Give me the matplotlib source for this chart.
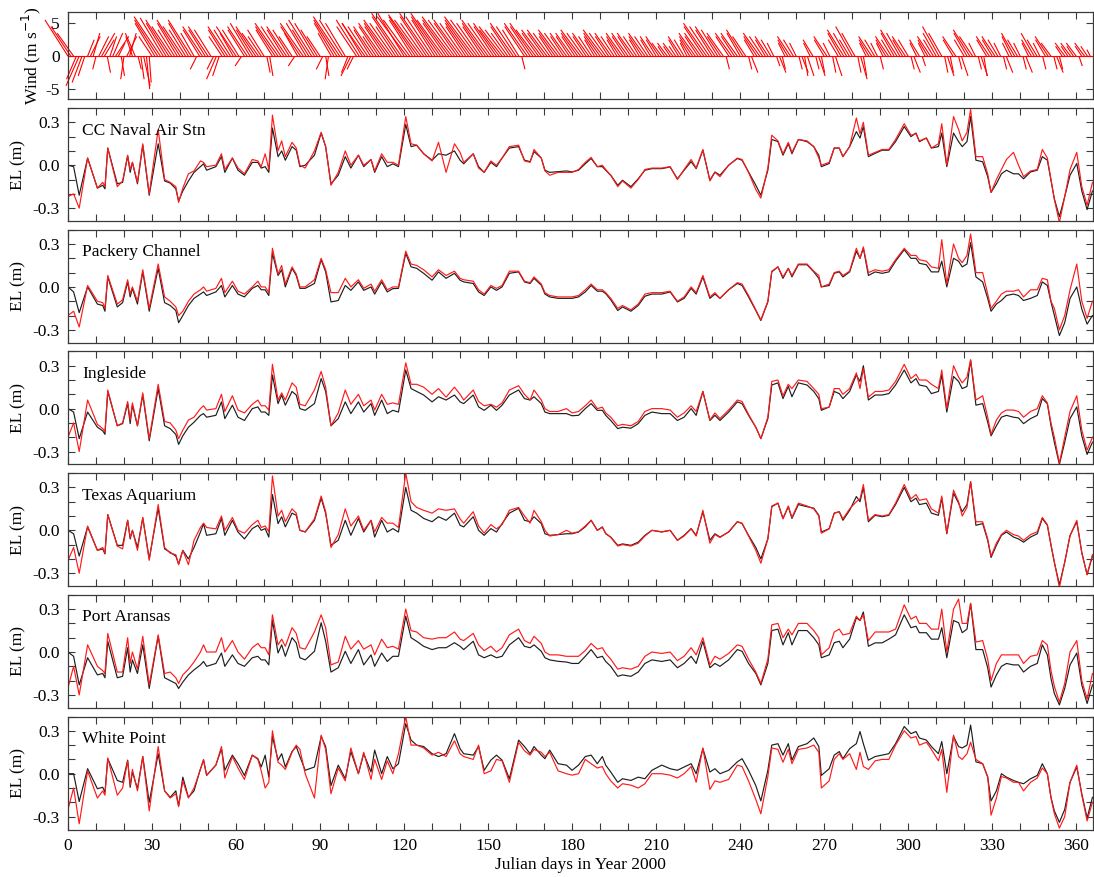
import numpy as np
import matplotlib
matplotlib.use("Agg")
import matplotlib.pyplot as plt
from matplotlib.collections import LineCollection
from matplotlib.ticker import MultipleLocator, FixedLocator, FormatStrFormatter

plt.rcParams["font.family"] = ["Liberation Serif", "DejaVu Serif"]
plt.rcParams["axes.unicode_minus"] = False

# ---------------------------------------------------------------- time axis
DAYS = [0, 2, 4, 7, 10.5, 12.4, 13.2, 14.2, 17.6, 19.5,
        21.3, 22.2, 23, 24.8, 26.7, 29, 32.2, 34.5, 36.5, 38.5,
        39.5, 41, 43, 45, 47.3, 48.4, 49.5, 52.8, 54.8, 56,
        58.7, 60.7, 63, 65.8, 67.8, 69, 70.4, 71.7, 73, 75,
        76.3, 77.6, 80, 81.5, 82.8, 84.7, 88, 90.4, 92, 93.9,
        96.5, 99, 101, 103.7, 105.6, 108.2, 109.5, 112, 114, 116,
        118, 120.6, 122.5, 124.5, 127, 130, 132.3, 135, 138, 140,
        141.3, 144.7, 146.6, 148.6, 151, 153, 155, 157.6, 160.9, 163,
        165, 166.4, 169, 170.3, 172, 175, 178,
        180, 182.3, 184.7, 186.8, 189, 190.8, 192, 193.8, 196.3, 198,
        201, 203.6, 206, 208.5, 212, 215, 217.6, 220, 222.5, 224.3,
        226.7, 229.2, 231, 232.8, 235.9, 239, 240.7, 243, 245.6, 247.4,
        249.9, 251.3, 253.5, 255.3, 257.2, 258.5, 260.8, 263.9, 266.3, 268.1,
        269, 271.8, 273.6, 275.4, 276.7, 279.1, 281.5, 282.8, 284, 285.8,
        288.2, 290.7, 293.1, 295.5, 298.6, 301, 302.8, 304, 306.5, 308.3,
        310.8, 312, 313.8, 316.2, 318, 319.3, 321, 322.3, 324.2, 326.6,
        328.4, 329.6, 331.5, 333.3, 335.1, 337.6, 339.4, 341.2, 343.7, 346.1,
        347.9, 349.7, 351, 352.2, 354, 355.9, 357.8, 360.2, 362, 363.9,
        365.8]

# ------------------------------------------- observed (black) / model (red)
CC_OBS = [0.0, -0.01, -0.21, 0.05, -0.16, -0.14, -0.165, 0.12, -0.13, -0.12,
          0.065, -0.05, 0.02, -0.13, 0.14, -0.21, 0.15, -0.11, -0.125, -0.165,
          -0.25, -0.18, -0.11, -0.05, -0.01, 0.01, -0.035, -0.01, 0.06, -0.05,
          0.05, -0.035, -0.07, 0.02, 0.02, -0.02, -0.01, -0.05, 0.26, 0.06,
          0.1, 0.035, 0.13, 0.105, -0.01, 0.0, 0.07, 0.225, 0.13, -0.13,
          -0.07, 0.06, -0.02, 0.07, -0.01, 0.04, -0.05, 0.06, -0.01, 0.01,
          -0.01, 0.285, 0.13, 0.14, 0.08, 0.035, 0.08, 0.07, 0.1, 0.035,
          0.01, 0.08, -0.01, -0.05, 0.02, -0.01, 0.05, 0.12, 0.13, 0.035,
          0.025, 0.095, 0.05, -0.035, -0.05, -0.045, -0.04,
          -0.047, -0.035, 0.01, 0.047, -0.01, -0.01, -0.035, -0.07, -0.14, -0.105,
          -0.15, -0.095, -0.035, -0.024, -0.024, -0.012, -0.095, -0.035, 0.025, -0.024,
          0.105, -0.105, -0.047, -0.07, 0.0, 0.047, 0.035, -0.047, -0.14, -0.21,
          -0.035, 0.18, 0.165, 0.07, 0.15, 0.08, 0.18, 0.165, 0.13, 0.07,
          -0.01, 0.012, 0.12, 0.12, 0.06, 0.13, 0.235, 0.19, 0.27, 0.06,
          0.083, 0.105, 0.105, 0.165, 0.27, 0.2, 0.225, 0.165, 0.19, 0.12,
          0.13, 0.225, -0.01, 0.225, 0.165, 0.13, 0.165, 0.34, 0.035, 0.024,
          -0.08, -0.19, -0.13, -0.06, -0.035, -0.06, -0.06, -0.095, -0.047, -0.035,
          0.06, 0.035, -0.105, -0.235, -0.36, -0.22, -0.07, 0.012, -0.18, -0.31,
          -0.18]
CC_MOD = [-0.22, -0.2, -0.3, 0.05, -0.16, -0.12, -0.15, 0.12, -0.15, -0.11,
          0.07, -0.03, 0.02, -0.12, 0.15, -0.2, 0.25, -0.1, -0.12, -0.15,
          -0.26, -0.16, -0.06, -0.04, 0.03, 0.02, -0.01, 0.0, 0.08, -0.03,
          0.05, -0.02, -0.06, 0.04, 0.03, -0.01, 0.08, -0.03, 0.35, 0.1,
          0.17, 0.06, 0.16, 0.12, 0.0, -0.02, 0.1, 0.23, 0.13, -0.14,
          -0.05, 0.1, 0.0, 0.07, 0.0, 0.04, -0.04, 0.08, 0.02, 0.02,
          0.0, 0.34, 0.15, 0.14, 0.08, 0.03, 0.16, -0.05, 0.15, 0.09,
          0.02, 0.08, -0.02, -0.05, 0.03, 0.0, 0.05, 0.13, 0.14, 0.03,
          0.02, 0.11, 0.05, -0.04, -0.07, -0.05, -0.05,
          -0.05, -0.03, 0.02, 0.055, -0.01, 0.0, -0.03, -0.07, -0.15, -0.11,
          -0.16, -0.1, -0.03, -0.02, -0.02, -0.01, -0.1, -0.03, 0.04, -0.02,
          0.11, -0.11, -0.05, -0.08, 0.0, 0.05, 0.04, -0.05, -0.17, -0.23,
          -0.02, 0.21, 0.17, 0.08, 0.16, 0.09, 0.18, 0.17, 0.13, 0.05,
          0.0, 0.02, 0.12, 0.12, 0.06, 0.13, 0.33, 0.22, 0.3, 0.07,
          0.09, 0.11, 0.11, 0.18, 0.29, 0.21, 0.22, 0.17, 0.19, 0.12,
          0.15, 0.29, 0.0, 0.34, 0.25, 0.17, 0.23, 0.39, 0.06, 0.06,
          -0.06, -0.19, -0.1, -0.03, 0.04, 0.09, 0.0, -0.08, -0.04, -0.03,
          0.11, 0.05, -0.1, -0.24, -0.4, -0.22, -0.03, 0.09, -0.15, -0.28,
          -0.12]

PC_OBS = [0.0, -0.035, -0.18, 0.0, -0.12, -0.13, -0.17, 0.07, -0.14, -0.11,
          0.035, -0.07, -0.01, -0.12, 0.105, -0.17, 0.13, -0.11, -0.13, -0.165,
          -0.25, -0.2, -0.13, -0.08, -0.05, -0.035, -0.06, -0.035, 0.01, -0.07,
          0.01, -0.05, -0.07, -0.01, 0.01, -0.02, -0.02, -0.06, 0.235, 0.08,
          0.12, 0.0, 0.13, 0.08, -0.01, -0.01, 0.024, 0.19, 0.105, -0.105,
          -0.095, 0.01, -0.024, 0.035, -0.024, 0.0, -0.05, 0.035, -0.035, -0.012,
          -0.01, 0.235, 0.14, 0.13, 0.095, 0.047, 0.105, 0.06, 0.095, 0.047,
          0.035, 0.024, -0.035, -0.06, 0.0, -0.024, 0.0, 0.095, 0.105, 0.035,
          0.024, 0.06, 0.012, -0.05, -0.07, -0.08, -0.08,
          -0.08, -0.07, -0.035, 0.01, -0.03, -0.03, -0.047, -0.09, -0.165, -0.14,
          -0.17, -0.13, -0.065, -0.05, -0.05, -0.035, -0.105, -0.08, -0.01, -0.05,
          0.07, -0.08, -0.05, -0.08, -0.02, 0.024, 0.01, -0.07, -0.165, -0.235,
          -0.105, 0.105, 0.14, 0.06, 0.13, 0.07, 0.155, 0.155, 0.105, 0.06,
          0.0, 0.01, 0.095, 0.105, 0.07, 0.105, 0.25, 0.2, 0.27, 0.08,
          0.105, 0.095, 0.105, 0.18, 0.26, 0.2, 0.2, 0.165, 0.155, 0.105,
          0.105, 0.18, 0.0, 0.2, 0.18, 0.14, 0.16, 0.31, 0.07, 0.035,
          -0.08, -0.17, -0.12, -0.095, -0.06, -0.05, -0.06, -0.095, -0.08, -0.06,
          0.035, 0.01, -0.105, -0.2, -0.34, -0.25, -0.08, 0.0, -0.155, -0.26,
          -0.2]
PC_MOD = [-0.2, -0.17, -0.28, 0.01, -0.1, -0.11, -0.15, 0.08, -0.12, -0.09,
          0.05, -0.05, 0.0, -0.1, 0.12, -0.15, 0.16, -0.07, -0.1, -0.14,
          -0.2, -0.17, -0.1, -0.05, -0.02, 0.0, -0.03, -0.01, 0.06, -0.04,
          0.04, -0.03, -0.05, 0.0, 0.04, 0.0, 0.0, -0.04, 0.27, 0.09,
          0.15, 0.02, 0.14, 0.09, 0.0, 0.0, 0.05, 0.2, 0.12, -0.04,
          -0.04, 0.06, 0.0, 0.05, -0.01, 0.02, -0.03, 0.05, -0.02, 0.0,
          0.0, 0.25, 0.16, 0.15, 0.12, 0.07, 0.12, 0.08, 0.11, 0.06,
          0.05, 0.04, -0.02, -0.05, 0.01, -0.01, 0.01, 0.11, 0.11, 0.04,
          0.03, 0.07, 0.02, -0.04, -0.06, -0.07, -0.07,
          -0.07, -0.06, -0.02, 0.02, -0.02, -0.02, -0.04, -0.08, -0.15, -0.13,
          -0.16, -0.12, -0.05, -0.04, -0.04, -0.03, -0.1, -0.07, 0.0, -0.04,
          0.08, -0.07, -0.04, -0.08, -0.02, 0.03, 0.02, -0.06, -0.16, -0.23,
          -0.1, 0.11, 0.14, 0.07, 0.13, 0.08, 0.16, 0.16, 0.11, 0.08,
          0.0, 0.02, 0.1, 0.11, 0.08, 0.11, 0.27, 0.2, 0.28, 0.1,
          0.12, 0.11, 0.12, 0.19, 0.27, 0.22, 0.22, 0.19, 0.18, 0.14,
          0.13, 0.33, 0.02, 0.3, 0.2, 0.17, 0.22, 0.37, 0.1, 0.1,
          -0.05, -0.15, -0.1, -0.05, -0.03, -0.03, -0.02, -0.07, -0.02, -0.02,
          0.06, 0.05, -0.1, -0.15, -0.3, -0.2, -0.02, 0.16, -0.1, -0.22,
          -0.1]

IN_OBS = [0.0, -0.024, -0.21, -0.024, -0.13, -0.155, -0.18, 0.12, -0.12, -0.105,
          0.035, -0.105, 0.024, -0.12, 0.095, -0.225, 0.14, -0.12, -0.14, -0.18,
          -0.25, -0.19, -0.13, -0.095, -0.047, -0.035, -0.06, -0.047, 0.047, -0.07,
          0.024, -0.06, -0.083, 0.0, 0.012, -0.024, -0.024, -0.047, 0.235, 0.035,
          0.095, 0.024, 0.12, 0.095, 0.0, -0.012, 0.035, 0.21, 0.12, -0.12,
          -0.07, 0.047, -0.035, 0.047, -0.024, 0.035, -0.047, 0.06, -0.035, -0.012,
          -0.024, 0.27, 0.14, 0.12, 0.095, 0.047, 0.083, 0.06, 0.095, 0.047,
          0.035, 0.095, 0.012, -0.012, 0.024, -0.012, 0.024, 0.095, 0.13, 0.07,
          0.06, 0.083, 0.035, -0.024, -0.035, -0.035, -0.035,
          -0.05, -0.047, 0.0, 0.035, -0.012, -0.012, -0.047, -0.083, -0.14, -0.13,
          -0.137, -0.105, -0.047, -0.024, -0.035, -0.035, -0.083, -0.06, 0.0, -0.047,
          0.12, -0.083, -0.047, -0.083, -0.024, 0.047, 0.035, -0.047, -0.13, -0.21,
          -0.07, 0.165, 0.18, 0.07, 0.155, 0.083, 0.18, 0.165, 0.12, 0.07,
          -0.012, 0.012, 0.12, 0.105, 0.07, 0.12, 0.235, 0.19, 0.3, 0.06,
          0.095, 0.095, 0.105, 0.165, 0.27, 0.18, 0.21, 0.165, 0.155, 0.105,
          0.12, 0.235, -0.024, 0.225, 0.19, 0.14, 0.155, 0.34, 0.024, 0.035,
          -0.095, -0.19, -0.12, -0.06, -0.047, -0.06, -0.065, -0.105, -0.07, -0.047,
          0.07, 0.035, -0.12, -0.235, -0.39, -0.235, -0.07, 0.012, -0.19, -0.32,
          -0.235]
IN_MOD = [-0.2, -0.1, -0.3, 0.06, -0.11, -0.14, -0.16, 0.13, -0.12, -0.1,
          0.05, -0.08, 0.04, -0.12, 0.11, -0.21, 0.17, -0.09, -0.1, -0.15,
          -0.21, -0.15, -0.08, -0.06, 0.0, 0.02, -0.01, 0.0, 0.1, -0.02,
          0.09, -0.01, -0.03, 0.03, 0.06, 0.02, 0.02, -0.01, 0.31, 0.06,
          0.11, 0.06, 0.18, 0.15, 0.03, 0.02, 0.13, 0.26, 0.15, -0.12,
          -0.03, 0.13, 0.03, 0.1, 0.02, 0.06, -0.01, 0.1, 0.03, 0.04,
          0.03, 0.32, 0.17, 0.17, 0.15, 0.1, 0.14, 0.08, 0.15, 0.1,
          0.06, 0.13, 0.05, 0.02, 0.03, 0.01, 0.04, 0.13, 0.16, 0.1,
          0.06, 0.13, 0.06, 0.0, -0.02, -0.02, 0.0,
          -0.03, -0.02, 0.02, 0.06, 0.0, 0.01, -0.03, -0.06, -0.12, -0.11,
          -0.12, -0.09, -0.02, 0.0, 0.0, -0.01, -0.06, -0.03, 0.02, -0.02,
          0.12, -0.08, -0.03, -0.07, -0.01, 0.06, 0.05, -0.04, -0.13, -0.21,
          -0.06, 0.19, 0.2, 0.09, 0.17, 0.14, 0.2, 0.19, 0.14, 0.1,
          0.0, 0.01, 0.14, 0.14, 0.1, 0.14, 0.25, 0.14, 0.28, 0.08,
          0.12, 0.12, 0.13, 0.19, 0.31, 0.21, 0.24, 0.2, 0.2, 0.17,
          0.14, 0.27, 0.0, 0.3, 0.22, 0.18, 0.22, 0.34, 0.06, 0.09,
          -0.06, -0.18, -0.08, -0.03, -0.01, -0.01, -0.02, -0.06, -0.02, 0.0,
          0.09, 0.04, -0.1, -0.2, -0.38, -0.2, -0.02, 0.09, -0.15, -0.29,
          -0.2]

TA_OBS = [0.0, -0.024, -0.18, 0.024, -0.14, -0.13, -0.165, 0.11, -0.105, -0.105,
          0.07, -0.06, 0.0, -0.12, 0.087, -0.2, 0.154, -0.13, -0.154, -0.18,
          -0.236, -0.14, -0.2, -0.12, -0.012, 0.047, -0.035, -0.024, 0.083, -0.035,
          0.07, -0.012, -0.06, 0.012, 0.035, 0.0, 0.012, -0.047, 0.25, 0.047,
          0.095, 0.024, 0.12, 0.105, 0.0, -0.012, 0.07, 0.225, 0.118, -0.105,
          -0.07, 0.07, -0.035, 0.083, -0.012, 0.07, -0.047, 0.07, -0.012, 0.012,
          -0.012, 0.3, 0.14, 0.12, 0.083, 0.06, 0.095, 0.07, 0.12, 0.035,
          0.024, 0.095, 0.0, -0.035, 0.012, -0.012, 0.047, 0.12, 0.154, 0.07,
          0.06, 0.095, 0.047, -0.024, -0.035, -0.03, -0.024,
          -0.024, -0.012, 0.024, 0.07, 0.0, 0.024, -0.024, -0.047, -0.105, -0.095,
          -0.105, -0.083, -0.035, 0.0, -0.012, 0.0, -0.07, -0.035, 0.012, -0.035,
          0.13, -0.07, -0.024, -0.047, -0.012, 0.06, 0.047, -0.035, -0.12, -0.2,
          -0.06, 0.165, 0.19, 0.083, 0.165, 0.083, 0.18, 0.165, 0.155, 0.105,
          -0.012, 0.012, 0.12, 0.13, 0.07, 0.14, 0.236, 0.2, 0.3, 0.06,
          0.105, 0.095, 0.105, 0.18, 0.3, 0.2, 0.225, 0.18, 0.19, 0.12,
          0.105, 0.225, -0.024, 0.26, 0.19, 0.13, 0.18, 0.34, 0.035, 0.047,
          -0.07, -0.19, -0.105, -0.035, -0.012, -0.047, -0.06, -0.083, -0.047, -0.024,
          0.083, 0.035, -0.105, -0.225, -0.38, -0.225, -0.035, 0.06, -0.154, -0.31,
          -0.18]
TA_MOD = [-0.21, -0.12, -0.3, 0.03, -0.14, -0.12, -0.16, 0.11, -0.11, -0.13,
          0.07, -0.05, 0.0, -0.14, 0.09, -0.21, 0.18, -0.12, -0.16, -0.17,
          -0.24, -0.14, -0.24, -0.07, 0.02, 0.05, 0.02, 0.01, 0.1, 0.0,
          0.09, 0.0, -0.02, 0.04, 0.07, 0.02, 0.03, -0.01, 0.38, 0.1,
          0.14, 0.06, 0.15, 0.12, 0.0, -0.01, 0.08, 0.24, 0.13, -0.12,
          -0.03, 0.15, 0.03, 0.1, 0.0, 0.07, -0.01, 0.09, 0.05, 0.05,
          0.02, 0.4, 0.2, 0.16, 0.14, 0.12, 0.15, 0.14, 0.15, 0.08,
          0.05, 0.13, 0.03, -0.02, 0.04, 0.01, 0.04, 0.14, 0.16, 0.1,
          0.05, 0.14, 0.06, 0.0, -0.04, -0.03, 0.0,
          -0.02, -0.01, 0.03, 0.07, 0.0, 0.02, -0.02, -0.05, -0.11, -0.1,
          -0.11, -0.09, -0.04, 0.0, -0.01, 0.0, -0.07, -0.04, 0.01, -0.04,
          0.14, -0.09, -0.03, -0.05, -0.01, 0.06, 0.05, -0.04, -0.14, -0.23,
          -0.06, 0.17, 0.19, 0.08, 0.17, 0.09, 0.19, 0.17, 0.15, 0.1,
          -0.02, 0.01, 0.12, 0.13, 0.08, 0.15, 0.2, 0.22, 0.32, 0.07,
          0.11, 0.1, 0.11, 0.19, 0.32, 0.22, 0.25, 0.21, 0.22, 0.15,
          0.12, 0.24, -0.02, 0.28, 0.2, 0.1, 0.16, 0.34, 0.06, 0.06,
          -0.06, -0.18, -0.09, -0.03, 0.0, -0.03, -0.04, -0.07, -0.03, -0.01,
          0.09, 0.04, -0.1, -0.22, -0.4, -0.22, -0.04, 0.07, -0.16, -0.31,
          -0.17]

PA_OBS = [0.0, -0.03, -0.23, -0.04, -0.16, -0.15, -0.18, 0.075, -0.18, -0.17,
          0.03, -0.14, -0.055, -0.15, 0.05, -0.255, 0.11, -0.18, -0.2, -0.22,
          -0.255, -0.21, -0.16, -0.125, -0.09, -0.066, -0.1, -0.08, -0.007, -0.1,
          -0.02, -0.08, -0.1, -0.04, -0.03, -0.055, -0.055, -0.09, 0.22, -0.007,
          0.05, -0.03, 0.1, 0.064, -0.04, -0.055, 0.005, 0.205, 0.075, -0.14,
          -0.11, 0.005, -0.08, 0.017, -0.09, -0.02, -0.1, -0.007, -0.066, -0.03,
          -0.03, 0.25, 0.1, 0.075, 0.04, 0.017, 0.03, 0.03, 0.065, 0.04,
          0.017, 0.075, -0.02, -0.04, -0.02, -0.04, -0.03, 0.05, 0.1, 0.04,
          0.03, 0.05, 0.005, -0.04, -0.055, -0.065, -0.07,
          -0.08, -0.08, -0.03, 0.017, -0.04, -0.03, -0.066, -0.1, -0.17, -0.16,
          -0.17, -0.14, -0.08, -0.055, -0.066, -0.055, -0.11, -0.08, -0.03, -0.08,
          0.075, -0.11, -0.08, -0.1, -0.055, 0.017, 0.005, -0.08, -0.15, -0.23,
          -0.08, 0.15, 0.16, 0.05, 0.135, 0.05, 0.15, 0.15, 0.1, 0.05,
          -0.04, -0.02, 0.065, 0.075, 0.03, 0.09, 0.24, 0.22, 0.28, 0.04,
          0.064, 0.064, 0.09, 0.12, 0.26, 0.17, 0.18, 0.135, 0.135, 0.09,
          0.09, 0.17, -0.04, 0.22, 0.205, 0.135, 0.16, 0.34, 0.017, 0.017,
          -0.11, -0.245, -0.16, -0.1, -0.08, -0.09, -0.09, -0.14, -0.1, -0.08,
          0.05, -0.02, -0.185, -0.29, -0.37, -0.255, -0.09, -0.007, -0.23, -0.36,
          -0.23]
PA_MOD = [-0.25, -0.1, -0.3, 0.05, -0.1, -0.13, -0.15, 0.13, -0.14, -0.14,
          0.1, -0.08, 0.0, -0.12, 0.11, -0.23, 0.12, -0.15, -0.14, -0.18,
          -0.22, -0.16, -0.12, -0.07, 0.0, 0.05, 0.0, 0.0, 0.1, 0.0,
          0.08, 0.0, -0.05, 0.03, 0.06, 0.03, 0.03, -0.02, 0.26, 0.05,
          0.09, 0.04, 0.17, 0.13, 0.03, 0.02, 0.14, 0.26, 0.17, -0.09,
          -0.07, 0.11, 0.02, 0.08, 0.02, 0.05, -0.02, 0.09, 0.03, 0.04,
          0.02, 0.3, 0.15, 0.14, 0.1, 0.09, 0.1, 0.1, 0.14, 0.09,
          0.08, 0.13, 0.05, 0.01, 0.04, 0.0, 0.03, 0.12, 0.16, 0.08,
          0.06, 0.11, 0.06, 0.0, -0.02, -0.02, -0.03,
          -0.03, -0.03, 0.01, 0.06, 0.02, 0.03, -0.01, -0.05, -0.12, -0.11,
          -0.12, -0.1, -0.03, 0.0, -0.01, 0.0, -0.06, -0.03, 0.03, -0.02,
          0.1, -0.09, -0.03, -0.05, -0.01, 0.05, 0.04, -0.05, -0.14, -0.22,
          -0.05, 0.19, 0.2, 0.1, 0.16, 0.12, 0.2, 0.2, 0.15, 0.1,
          -0.02, 0.03, 0.14, 0.16, 0.12, 0.13, 0.25, 0.22, 0.26, 0.08,
          0.14, 0.14, 0.14, 0.16, 0.33, 0.23, 0.25, 0.2, 0.2, 0.16,
          0.16, 0.3, 0.0, 0.3, 0.37, 0.2, 0.2, 0.34, 0.07, 0.08,
          -0.05, -0.2, -0.08, -0.02, -0.02, -0.02, -0.02, -0.08, -0.03, -0.02,
          0.08, 0.05, -0.13, -0.24, -0.35, -0.22, 0.0, 0.08, -0.2, -0.33,
          -0.15]

WP_OBS = [0.0, 0.0, -0.195, 0.035, -0.105, -0.095, -0.13, 0.105, -0.047, -0.06,
          0.095, -0.095, 0.012, -0.105, 0.12, -0.2, 0.14, -0.12, -0.165, -0.12,
          -0.225, -0.024, -0.165, -0.12, 0.035, 0.095, -0.012, 0.06, 0.175, 0.024,
          0.13, 0.07, -0.012, 0.13, 0.105, 0.047, 0.13, -0.024, 0.26, 0.095,
          0.14, 0.047, 0.155, 0.19, 0.12, 0.024, 0.047, 0.26, 0.19, -0.083,
          0.06, -0.035, 0.155, 0.0, 0.14, 0.012, 0.165, 0.0, 0.12, 0.035,
          0.07, 0.35, 0.235, 0.2, 0.19, 0.14, 0.12, 0.14, 0.28, 0.175,
          0.14, 0.13, 0.19, 0.024, 0.095, 0.13, 0.095, -0.035, 0.235, 0.19,
          0.14, 0.19, 0.13, 0.105, 0.165, 0.07, 0.06,
          0.024, 0.06, 0.12, 0.13, 0.07, 0.12, 0.06, 0.012, -0.06, -0.035,
          -0.047, -0.024, -0.035, 0.024, 0.06, 0.035, 0.024, 0.047, 0.07, 0.0,
          0.175, 0.012, 0.035, 0.0, 0.024, 0.083, 0.105, 0.024, -0.083, -0.19,
          0.024, 0.2, 0.21, 0.13, 0.21, 0.095, 0.19, 0.21, 0.25, 0.19,
          -0.012, 0.035, 0.13, 0.155, 0.105, 0.175, 0.21, 0.295, 0.21, 0.095,
          0.12, 0.13, 0.14, 0.21, 0.33, 0.28, 0.295, 0.25, 0.235, 0.19,
          0.14, 0.225, 0.0, 0.26, 0.19, 0.18, 0.2, 0.34, 0.083, 0.07,
          -0.024, -0.19, -0.12, 0.0, -0.024, -0.047, -0.06, -0.07, -0.035, -0.012,
          0.07, 0.0, -0.165, -0.26, -0.34, -0.25, -0.06, 0.047, -0.14, -0.31,
          -0.165]
WP_MOD = [-0.25, -0.1, -0.35, 0.02, -0.17, -0.12, -0.15, 0.11, -0.15, -0.1,
          0.09, -0.08, 0.03, -0.12, 0.12, -0.26, 0.19, -0.12, -0.17, -0.14,
          -0.23, -0.05, -0.17, -0.1, 0.03, 0.1, -0.01, 0.06, 0.19, -0.03,
          0.12, 0.04, -0.04, 0.13, 0.1, 0.02, -0.1, -0.06, 0.3, 0.08,
          0.06, 0.03, 0.15, 0.2, 0.17, 0.0, -0.17, 0.27, 0.17, -0.14,
          0.04, -0.05, 0.18, 0.0, 0.15, -0.04, 0.1, -0.04, 0.09, 0.0,
          0.14, 0.4, 0.2, 0.2, 0.18, 0.13, 0.15, 0.12, 0.23, 0.14,
          0.12, 0.1, 0.2, 0.0, 0.02, 0.1, 0.09, -0.06, 0.22, 0.16,
          0.13, 0.17, 0.15, 0.12, 0.15, 0.02, 0.0,
          -0.01, 0.0, 0.1, 0.07, 0.04, 0.05, 0.0, -0.05, -0.1, -0.07,
          -0.08, -0.1, -0.07, 0.0, 0.0, -0.01, -0.03, 0.0, 0.05, -0.06,
          0.18, -0.11, -0.05, -0.06, -0.04, 0.06, 0.05, -0.05, -0.18, -0.28,
          -0.02, 0.18, 0.17, 0.08, 0.17, 0.07, 0.17, 0.18, 0.2, 0.15,
          -0.1, -0.05, 0.1, 0.14, 0.1, 0.14, 0.03, 0.15, 0.05, 0.03,
          0.09, 0.1, 0.1, 0.2, 0.3, 0.25, 0.26, 0.2, 0.22, 0.17,
          0.09, 0.17, -0.13, 0.27, 0.12, 0.1, 0.14, 0.22, 0.1, 0.07,
          -0.02, -0.29, -0.17, -0.02, -0.03, -0.06, -0.06, -0.12, -0.06, -0.03,
          0.04, 0.0, -0.17, -0.28, -0.38, -0.3, -0.06, 0.06, -0.15, -0.33,
          -0.2]

STATIONS = ["CC Naval Air Stn", "Packery Channel", "Ingleside",
            "Texas Aquarium", "Port Aransas", "White Point"]
OBSERVED = [CC_OBS, PC_OBS, IN_OBS, TA_OBS, PA_OBS, WP_OBS]
MODELED = [CC_MOD, PC_MOD, IN_MOD, TA_MOD, PA_MOD, WP_MOD]

# ------------------------------------------------------------ daily wind
WIND_DAY = list(range(366))
WIND_U = [-3.5, -3, -2.5, -1.5, -2, -1.5, -1, 1, 1.5, 1,
          -0.5, 1.5, 2, 1.5, 0.5, 1, 1.5, 2, 1, 0.5,
          -0.5, 1.5, 1, -1, -1.5, 0.5, 0.5, 1, 0.5, 0.3,
          -2, -3, -3.5, -4, -3.5, -3, -3.5, -3, -2.5, -3,
          -3.5, -3, -2.5, -3, -3.5, -2, -1, -2.5, -3, -2.5,
          -3, -2.5, -1, -1.5, -1, -2, -2.5, -3, -2.5, -2,
          -3, -2.5, -1, -2.5, -3, -3, -2.5, -3, -2.5, -2,
          -2.5, 0.5, 0.5, -2.5, -3, -3.5, -3, -2.5, -3, -2.5,
          -2, -1, -2, -3, -3.5, -3, -2.5, -3.5, -3, -2.5,
          -2, -1, 0.5, -0.5, -2, -3, -3.5, -4, -3.5, -3,
          -1, -1.5, -1, -3, -3.5, -3, -3.5, -3, -2.5, -3,
          -2, -3, -3.5, -3, -3.5, -4, -3.5, -3, -4, -4.5,
          -4, -4.5, -4, -3.5, -4, -4.5, -4, -3.5, -4, -4.5,
          -4, -3.5, -4, -4.5, -4, -3.5, -4, -4.5, -4, -3.5,
          -4, -3.5, -3, -3.5, -4, -4.5, -4, -3.5, -3, -3.5,
          -4, -3.5, -3, -3.5, -3, -3.5, -3, -2.5, -3, -3.5,
          -3, -2.5, 0.5, -3, -3.5, -3, -3.5, -3, -2.5, -3,
          -2.5, -3, -2.5, -2, -2.5, -3, -2.5, -2, -2.5, -2,
          -2.5, -2, -2.5, -3, -2.5, -2, -2.5, -2, -1.5, -2,
          -2.5, -3, -2.5, -2, -2.5, -2, -1.5, -2, -2.5, -2,
          -2.5, -2, -2.5, -2, -1.5, -2, -2.5, -2, -1.5, -2,
          -1.5, -2, -1.5, -1, -1.5, -1, -1.5, -1, -1.5, -2,
          -1.5, -1, -1.5, -2, -2.5, -2, -2.5, -3, -3.5, -3,
          -2.5, -3, -2.5, -2, -2.5, 0.5, -2, -2.5, -2, -2.5,
          -2, -2.5, -2, 0.5, 1, -1.5, -2, -2.5, -2, -1.5,
          -2, -1.5, -1, 0.5, 1, 0.5, -1, -1.5, -2, -1.5,
          -1, 0.5, 1, 0.5, 1, -1, -1.5, 0.5, 1, 0.5,
          -1.5, -2, -1, 0.5, 1, -1.5, -2, -2.5, -2, -1.5,
          -2.5, -2, 0.5, 1, 0.5, -1, -1.5, -2, -1.5, -1,
          0.5, -1, -1.5, -2, -1.5, -2, -2.5, -2, -1.5, -2,
          -1.5, 0.5, 1, -1, -1.5, 0.5, -1, -1.5, -2, -1.5,
          -2, -2.5, -2, 0.5, 1, 0.5, -1.5, -2, 0.5, 1,
          -1.5, -2, -2.5, -2, -1, 0.5, 1, 0.5, -1.5, -2,
          -1.5, -2, -1.5, -1, 0.5, 1, -1, -1.5, -2, -1.5,
          -1, 0.5, 1, -1, -1.5, -2, -1.5, -1, 0.5, -1.5,
          -2, -1.5, 0.5, 1, 0.5, -1, -1.5, -1, -1.5, -1,
          -1.5, 0.5, -1, -1.5, -1, -0.5]
WIND_V = [5.5, 4.5, 3.5, -3.5, -4.5, -4, -3, 2.5, 3, 3.5,
          -2, 3, 3.5, 2.5, -2.5, 3, 3.5, 3, 2, -3,
          -3.5, 3, 3.5, 3, 3.5, -2, -3.5, -4.5, -5, -4,
          3, 5, 5.5, 6, 5.8, 5, 5.5, 4.5, 4, 5,
          5.5, 4.5, 4, 5, 5.5, 3.5, -2, 4, 4.5, 4,
          4.5, 4, -2, -3.5, -3, 3, 4, 4.5, 4, 3.5,
          4.5, 4, -1.5, 4, 4.5, 5, 4, 4.5, 3.5, 3,
          4, -2.5, -3, 4, 4.5, 5, 4.5, 4, 4.5, 4,
          3, -1.5, 3.5, 4.5, 5, 5, 4, 5.5, 5, 4,
          3, -2, -3, -3.5, 3.5, 5, 5.5, 6, 5.5, 5,
          -2.5, -3, -2, 4.5, 5.5, 5, 5, 4.5, 4, 4.5,
          3, 4.5, 5, 4.5, 5, 5.5, 5, 4.5, 6, 6.5,
          6.5, 6, 5.5, 5.5, 6, 6.3, 5.5, 5, 6, 6.5,
          6, 5.5, 6, 6.5, 5.5, 5, 5.5, 6, 5.5, 5,
          5.5, 5, 4.5, 5, 5.5, 6, 5.5, 5, 4.5, 5,
          5.5, 5, 4.5, 5, 4, 4.5, 4, 3.5, 4.5, 5,
          4.5, 4, -2, 4.5, 5, 4.5, 5, 4, 3.5, 4,
          3.5, 4, 3.5, 3, 3.5, 4, 3.5, 3, 3.5, 3,
          3.5, 3, 3.5, 4, 3.5, 3, 3.5, 3, 2.5, 3,
          3.5, 4, 3.5, 3, 3.5, 3, 2.5, 3, 3.5, 3,
          3.5, 3, 3.5, 3, 2.5, 3, 3.5, 3, 2.5, 3,
          2.5, 3, 2, 1.5, 2, 1.5, 2, 1.5, 2.5, 3,
          2.5, 2, 2.5, 3, 3.5, 3, 3.5, 4.5, 5, 4.5,
          4, 4.5, 4, 3, 3.5, -2, 3, 3.5, 3, 3.5,
          3.5, 4, 3, -2, -2.5, 2.5, 3, 3.5, 3, 2.5,
          3, 2.5, 2, -1.5, -2.5, -2, 2, 2.5, 3, 2.5,
          2, -2, -2.5, -3, -3, 2, 2.5, -2, -3, -2.5,
          2.5, 3, 2, -2.5, -3, 2.5, 3.5, 4, 3.5, 2.5,
          4.5, 3.5, -2.5, -3.5, -3, 2, 2.5, 3, 2.5, 2,
          -2, 2, 2.5, 3, 2.5, 3.5, 4, 3.5, 2.5, 3,
          2.5, -2, -2.5, 2, 2.5, -1.5, 2, 2.5, 3, 2.5,
          3.5, 4.5, 3.5, -2.5, -3, -2.5, 2.5, 3, -2, -3,
          2.5, 3.5, 4, 3, 2, -2, -3, -3, 2.5, 3,
          2.5, 3, 2.5, 2, -2, -2.5, 2, 3, 3.5, 2.5,
          2, -2, -2.5, 2, 2.5, 3.5, 2.5, 2, -2, 2.5,
          3, 2, -2, -2.5, -2, 1.5, 2, 1.5, 2, 1.5,
          2, -1.5, 1.5, 2, 1.5, 1]

# ------------------------------------------------------------------ layout
W, H = 1094, 877
fig = plt.figure(figsize=(W / 100, H / 100), dpi=100)

X0, X1 = 68, 1093
XMAX = 366.0


def px_axes(top, bottom):
    return fig.add_axes([X0 / W, 1 - bottom / H, (X1 - X0) / W, (bottom - top) / H])


FRAME = "#3a3a3a"
FS = 12.5


def style(ax, labels_x=False):
    ax.set_xlim(0, XMAX)
    ax.xaxis.set_major_locator(MultipleLocator(30))
    ax.xaxis.set_minor_locator(MultipleLocator(10))
    ax.tick_params(which="both", direction="in", top=True, right=True,
                   length=5, width=0.8, color=FRAME, labelsize=FS, pad=6)
    ax.tick_params(axis="x", labelbottom=labels_x)
    for s in ax.spines.values():
        s.set_color(FRAME)
        s.set_linewidth(0.9)


# wind stick panel
axw = px_axes(12, 99)
style(axw)
axw.set_ylim(-6.5, 6.7)
axw.yaxis.set_major_locator(FixedLocator([-5, 0, 5]))
axw.yaxis.set_major_formatter(FormatStrFormatter("%d"))
axw.axhline(0, color="red", lw=0.8)
# equal scaling of u (along time) and v (vertical) in pixels
bb = axw.get_window_extent()
days_per_ms = (bb.height / (6.7 + 6.5)) / (bb.width / XMAX)
segs = [[(d, 0.0), (d + u * days_per_ms, v)] for d, u, v in zip(WIND_DAY, WIND_U, WIND_V)]
sticks = LineCollection(segs, colors="red", linewidths=0.8)
sticks.set_clip_on(False)
axw.add_collection(sticks)
axw.set_ylabel("Wind (m s$^{-1}$)", fontsize=FS, labelpad=2)

# water level panels
for i, (name, obs, mod) in enumerate(zip(STATIONS, OBSERVED, MODELED)):
    top = 108 + i * 121.7
    ax = px_axes(top, top + 113)
    last = i == len(STATIONS) - 1
    style(ax, labels_x=last)
    ax.set_ylim(-0.39, 0.40)
    ax.yaxis.set_major_locator(FixedLocator([-0.3, 0.0, 0.3]))
    ax.yaxis.set_minor_locator(MultipleLocator(0.1))
    ax.yaxis.set_major_formatter(FormatStrFormatter("%.1f"))
    ax.plot(DAYS, obs, color="#1e1e1e", lw=0.85)
    ax.plot(DAYS, mod, color="#ff1a1a", lw=0.85)
    ax.text(0.014, 0.80, name, transform=ax.transAxes, fontsize=FS,
            ha="left", va="center")
    ax.set_ylabel("EL (m)", fontsize=FS, labelpad=4)
    if last:
        ax.set_xlabel("Julian days in Year 2000", fontsize=FS, labelpad=2)

fig.align_ylabels(fig.axes)
fig.savefig("out.png", dpi=100)
